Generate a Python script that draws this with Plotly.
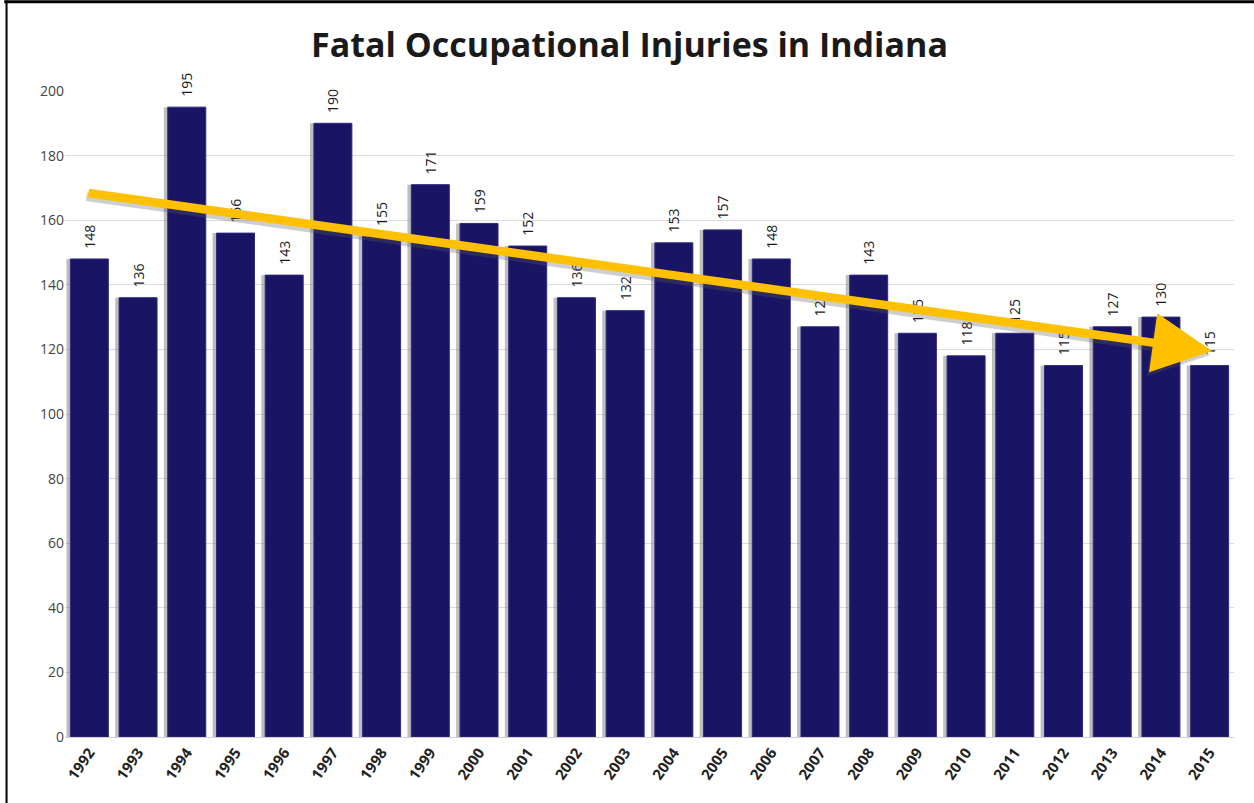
import plotly.graph_objects as go

years = [str(y) for y in range(1992, 2016)]
fatalities = [148, 136, 195, 156, 143, 190, 155, 171, 159, 152, 136, 132,
              153, 157, 148, 127, 143, 125, 118, 125, 115, 127, 130, 115]
y_ticks = list(range(0, 201, 20))

# Trend arrow endpoints (category index, value)
trend_start = (-0.05, 168.5)
trend_end = (23.05, 119.5)

idx = list(range(len(years)))
fig = go.Figure()

# soft shadow behind bars
fig.add_trace(go.Bar(
    x=idx, y=fatalities,
    width=0.8, offset=-0.47,
    marker=dict(color="rgba(110,110,110,0.45)", line=dict(width=0)),
    hoverinfo="skip", showlegend=False,
))
fig.add_trace(go.Bar(
    x=idx, y=fatalities,
    width=0.78, offset=-0.39,
    marker=dict(color="#1a1464", line=dict(color="#2e2a85", width=1)),
    text=["  " + str(v) for v in fatalities], textposition="outside", textangle=-90,
    textfont=dict(family="Open Sans, Arial", size=14, color="#1a1a1a"),
    cliponaxis=False, showlegend=False,
))

# arrow shadow
fig.add_annotation(
    x=trend_end[0] - 0.04, y=trend_end[1] - 1.2, ax=trend_start[0] - 0.04, ay=trend_start[1] - 1.2,
    xref="x", yref="y", axref="x", ayref="y",
    showarrow=True, arrowhead=2, arrowsize=1.4, arrowwidth=8.5,
    arrowcolor="rgba(90,90,90,0.3)", text="",
)
fig.add_annotation(
    x=trend_end[0], y=trend_end[1], ax=trend_start[0], ay=trend_start[1],
    xref="x", yref="y", axref="x", ayref="y",
    showarrow=True, arrowhead=2, arrowsize=1.4, arrowwidth=8.5,
    arrowcolor="#FFC000", text="",
)

fig.update_layout(
    width=1254, height=803,
    barmode="overlay",
    paper_bgcolor="white", plot_bgcolor="white",
    margin=dict(l=65, r=20, t=91, b=66),
    title=dict(text="<b>Fatal Occupational Injuries in Indiana</b>",
               x=0.502, xanchor="center", y=0.944, yanchor="middle",
               font=dict(family="Open Sans, Arial", size=34, color="#1a1a1a")),
    xaxis=dict(
        tickmode="array", tickvals=idx, ticktext=years,
        range=[-0.5, len(years) - 0.5], tickangle=-55,
        tickfont=dict(family="Open Sans, Arial", size=15, color="#222222", weight="bold"),
        showgrid=False, showline=True, linecolor="#d0d0d0", ticks="",
    ),
    yaxis=dict(
        range=[0, 200], tickvals=y_ticks,
        tickfont=dict(family="Open Sans, Arial", size=14, color="#444444"),
        showgrid=True, gridcolor="#dcdcdc", gridwidth=1, zeroline=False,
        showline=False,
    ),
    shapes=[
        dict(type="line", xref="paper", yref="paper",
             x0=-0.052, x1=1.02, y0=1.138, y1=1.138,
             line=dict(color="black", width=3), layer="above"),
        dict(type="line", xref="paper", yref="paper",
             x0=-0.050, x1=-0.050, y0=1.14, y1=-0.11,
             line=dict(color="black", width=2), layer="above"),
    ],
)

fig.write_html("out.html", config={"displayModeBar": False},
               post_script="document.body.style.margin='0';")
